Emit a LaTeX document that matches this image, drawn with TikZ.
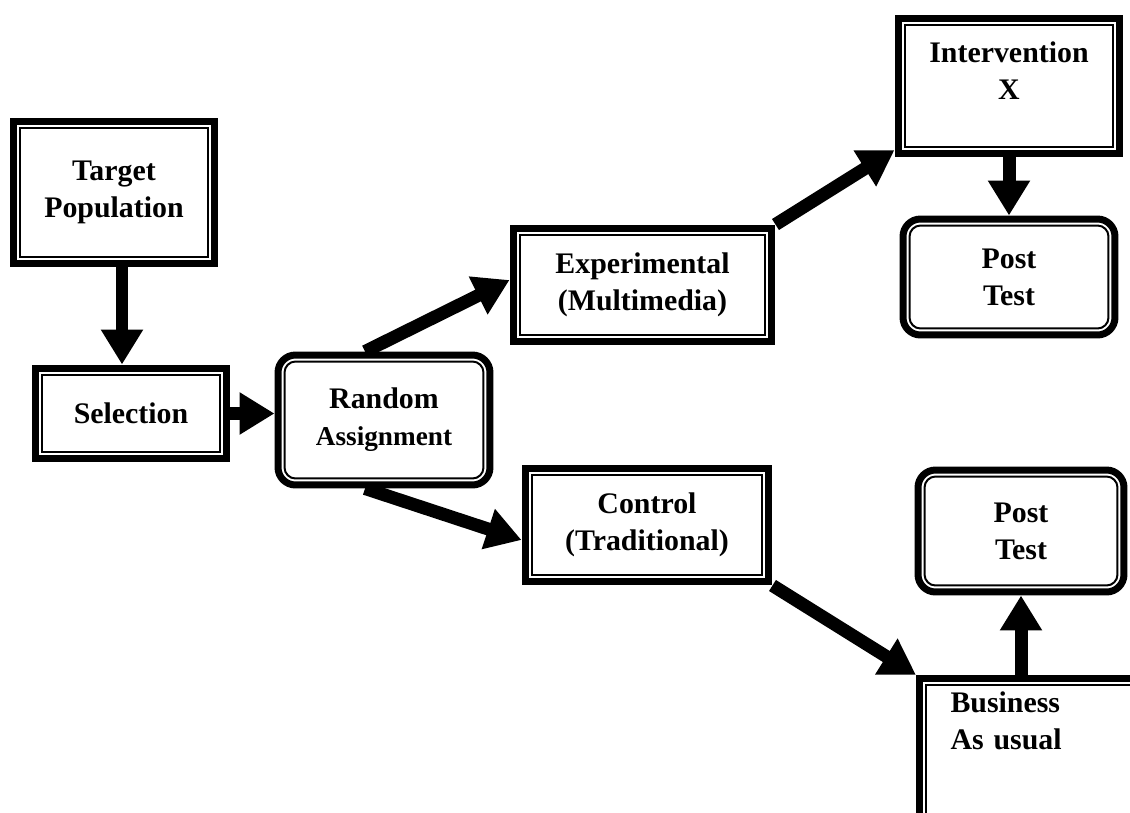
\documentclass[tikz,border=0pt]{standalone}
\usepackage{fontspec}
\setmainfont{Liberation Serif}
\usepackage{tikz}
\usetikzlibrary{arrows.meta}

\begin{document}
\begin{tikzpicture}[x=0.02cm, y=-0.02cm,
  boxtext/.style={draw, line width=0.14cm, align=center, font=\fontsize{17pt}{21pt}\selectfont\bfseries},
  sqbox/.style={boxtext, path picture={\draw[line width=0.04cm, sharp corners] ([shift={(0.13cm,0.13cm)}]path picture bounding box.south west) rectangle ([shift={(-0.13cm,-0.13cm)}]path picture bounding box.north east);}},
  rdbox/.style={boxtext, rounded corners=0.35cm, path picture={\draw[line width=0.04cm, rounded corners=0.22cm] ([shift={(0.13cm,0.13cm)}]path picture bounding box.south west) rectangle ([shift={(-0.13cm,-0.13cm)}]path picture bounding box.north east);}},
  arr/.style={line width=0.26cm, -{Triangle[length=0.7cm, width=0.8cm]}}]
\useasboundingbox (0,0) rectangle (1130,812);
\clip (0,0) rectangle (1130,812);

% Left: target population and selection
\node[sqbox, minimum width=4.04cm, minimum height=2.86cm] (tpop) at (114,192.5) {Target\\Population};
\node[sqbox, minimum width=3.84cm, minimum height=1.82cm] (sel) at (131,413.5) {Selection};

% Middle: random assignment
\node[rdbox, minimum width=4.24cm, minimum height=2.6cm] (rand) at (384,420) {Random\\{\fontsize{15.5pt}{19pt}\selectfont Assignment}};

% Upper branch: experimental group
\node[sqbox, minimum width=5.18cm, minimum height=2.28cm] (expm) at (642.5,285) {Experimental\\(Multimedia)};
\node[sqbox, minimum width=4.44cm, minimum height=2.72cm, text depth=0.6cm] (intv) at (1009,86) {Intervention\\X};
\node[rdbox, minimum width=4.24cm, minimum height=2.32cm] (posta) at (1009,277) {Post\\Test};

% Lower branch: control group
\node[sqbox, minimum width=4.88cm, minimum height=2.28cm] (ctrl) at (647,525) {Control\\(Traditional)};
\node[rdbox, minimum width=4.12cm, minimum height=2.44cm] (postb) at (1021,531) {Post\\Test};
\node[sqbox, anchor=north west, align=left, text width=3.56cm, inner xsep=0.62cm, inner ysep=0.26cm, text depth=2.5cm] (biz) at (916,675) {Business\\As usual};

% Arrows
\draw[arr] ([xshift=0.16cm]tpop.south) -- ([xshift=0.16cm]tpop.south |- sel.north);
\draw[arr] (sel.east) -- (sel.east -| rand.west);
\draw[arr] ([xshift=-0.38cm]rand.north) -- ([yshift=0.1cm]expm.west);
\draw[arr] ([xshift=-0.38cm]rand.south) -- ([yshift=-0.3cm]ctrl.west);
\draw[arr] (expm.north east) -- ([yshift=0.15cm]intv.south west);
\draw[arr] (intv.south) -- (posta.north);
\draw[arr] (ctrl.south east) -- (biz.north west);
\draw[arr] (biz.north -| postb.south) -- (postb.south);
\end{tikzpicture}
\end{document}
